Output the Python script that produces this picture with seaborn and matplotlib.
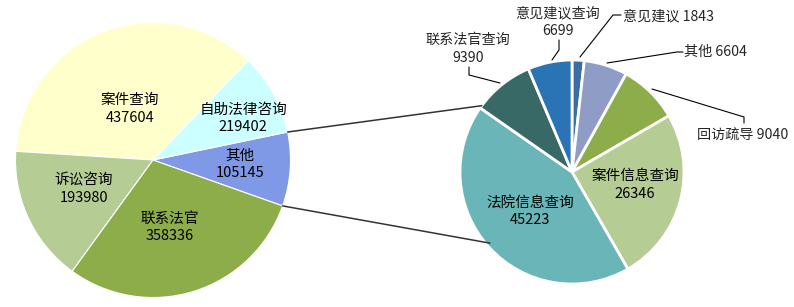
import matplotlib
matplotlib.use("Agg")
import matplotlib.pyplot as plt
import seaborn as sns
import numpy as np

sns.set_theme(style="white")
plt.rcParams['font.family'] = ['Noto Sans CJK SC', 'DejaVu Sans']

# ---- data ----
left_categories = ["其他", "自助法律咨询", "案件查询", "诉讼咨询", "联系法官"]
left_values = [105145, 219402, 437604, 193980, 358336]        # label values
left_drawn = [105145, 116400, 437604, 193980, 358336]         # slice sizes as drawn in picture
left_colors = ["#8099E6", "#CCFFFF", "#FFFFCC", "#B5CD94", "#8DAD4A"]

right_categories = ["意见建议", "其他", "回访疏导", "案件信息查询", "法院信息查询", "联系法官查询", "意见建议查询"]
right_values = [1843, 6604, 9040, 26346, 45223, 9390, 6699]
right_colors = ["#3A6DA5", "#8E9CC6", "#8DAD4A", "#B5CD94", "#6AB5B7", "#396966", "#2A73B4"]

W, H = 794, 307
fig = plt.figure(figsize=(W / 100, H / 100), dpi=100)
ax = fig.add_axes([0, 0, 1, 1])

def Y(y):
    return H - y

# left pie
lc = (153, Y(160)); lr = 137.5
lstart = -19.5
ax.pie(left_drawn, colors=left_colors, startangle=lstart, counterclock=True,
       center=lc, radius=lr, frame=True,
       wedgeprops=dict(edgecolor="white", linewidth=0.8))

# right pie
rc = (572, Y(172)); rr = 112
ax.pie(right_values, colors=right_colors, startangle=90, counterclock=False,
       center=rc, radius=rr, frame=True,
       wedgeprops=dict(edgecolor="white", linewidth=2.0))

fs = 10.5
fso = 10.2
ls = 1.3
# left labels
left_pos = {"其他": (240, 164), "自助法律咨询": (243, 118), "案件查询": (130, 109),
            "诉讼咨询": (84, 189), "联系法官": (170, 227)}
for name, val in zip(left_categories, left_values):
    x, y = left_pos[name]
    ax.text(x, Y(y), f"{name}\n{val}", ha="center", va="center", fontsize=fs,
            linespacing=ls, color="black")

# right inside labels
inside_pos = {"案件信息查询": (635, 185), "法院信息查询": (530, 211)}
for name, val in zip(right_categories, right_values):
    if name in inside_pos:
        x, y = inside_pos[name]
        ax.text(x, Y(y), f"{name}\n{val}", ha="center", va="center", fontsize=fs,
                linespacing=ls, color="black")

rv = dict(zip(right_categories, right_values))
# outside labels with leader lines
ax.text(558, Y(22), f"意见建议查询\n{rv['意见建议查询']}", ha="center", va="center",
        fontsize=fso, linespacing=ls)
ax.plot([559, 559, 552], [Y(40), Y(50), Y(60)], color="black", lw=0.8)

ax.text(468, Y(49), f"联系法官查询\n{rv['联系法官查询']}", ha="center", va="center",
        fontsize=fso, linespacing=ls)
ax.plot([469, 469, 500], [Y(67), Y(75), Y(83)], color="black", lw=0.8)

ax.text(623, Y(16), f"意见建议 {rv['意见建议']}", ha="left", va="center", fontsize=fso)
ax.plot([580, 613, 621], [Y(57), Y(15), Y(15)], color="black", lw=0.8)

ax.text(684, Y(52), f"其他 {rv['其他']}", ha="left", va="center", fontsize=fso)
ax.plot([607, 677, 683], [Y(63), Y(52), Y(52)], color="black", lw=0.8)

ax.text(697, Y(136), f"回访疏导 {rv['回访疏导']}", ha="left", va="center", fontsize=fso)
ax.plot([652, 744, 744], [Y(89), Y(117), Y(123)], color="black", lw=0.8)

# connector lines between pies
tot = sum(left_drawn)
a1 = np.deg2rad(lstart + 360 * left_drawn[0] / tot)
a0 = np.deg2rad(lstart)
p_top = (lc[0] + lr * np.cos(a1), lc[1] + lr * np.sin(a1))
p_bot = (lc[0] + lr * np.cos(a0), lc[1] + lr * np.sin(a0))
q_top = (rc[0] + rr * np.cos(np.deg2rad(143.7)), rc[1] + rr * np.sin(np.deg2rad(143.7)))
q_bot = (rc[0] + 0.97 * rr * np.cos(np.deg2rad(220.9)), rc[1] + 0.97 * rr * np.sin(np.deg2rad(220.9)))
ax.plot([p_top[0], q_top[0]], [p_top[1], q_top[1]], color="#333333", lw=1.1)
ax.plot([p_bot[0], q_bot[0]], [p_bot[1], q_bot[1]], color="#333333", lw=1.1)

ax.set_xlim(0, W)
ax.set_ylim(0, H)
ax.set_aspect("equal")
ax.set_axis_off()

fig.savefig("out.png", dpi=100, facecolor="white")
